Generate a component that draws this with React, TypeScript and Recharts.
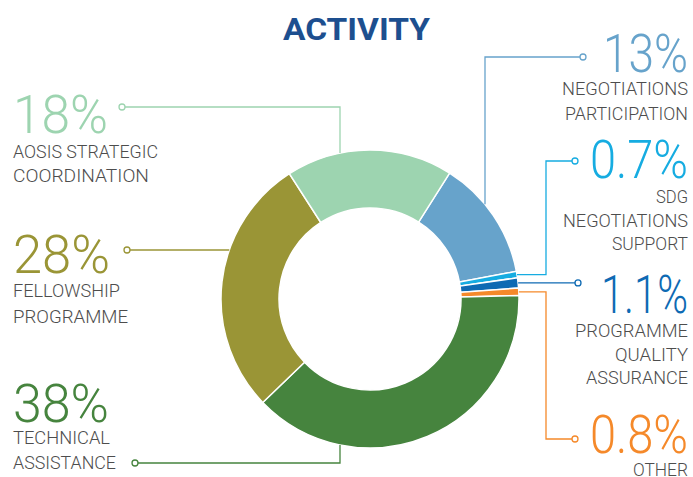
import React from 'react';
import { PieChart, Pie, Cell } from 'recharts';

// ---- data ----
const categories = [
  'NEGOTIATIONS PARTICIPATION',
  'SDG NEGOTIATIONS SUPPORT',
  'PROGRAMME QUALITY ASSURANCE',
  'OTHER',
  'TECHNICAL ASSISTANCE',
  'FELLOWSHIP PROGRAMME',
  'AOSIS STRATEGIC COORDINATION',
];
const categoryLines = [
  ['NEGOTIATIONS', 'PARTICIPATION'],
  ['SDG', 'NEGOTIATIONS', 'SUPPORT'],
  ['PROGRAMME', 'QUALITY', 'ASSURANCE'],
  ['OTHER'],
  ['TECHNICAL', 'ASSISTANCE'],
  ['FELLOWSHIP', 'PROGRAMME'],
  ['AOSIS STRATEGIC', 'COORDINATION'],
];
const shares = [13, 0.7, 1.1, 0.8, 38, 28, 18];
const shareLabels = ['13%', '0.7%', '1.1%', '0.8%', '38%', '28%', '18%'];
const title = 'ACTIVITY';

// ---- styles ----
const colors = ['#67A3CB', '#16ACE1', '#0E6AB3', '#F5892A', '#46843E', '#9A9536', '#9DD4B0'];
const textGray = '#4D4D4D';
const FONT = 'Roboto, "Noto Sans", sans-serif';

// ---- layout for labels (positions only) ----
type Leg = { x?: number; y?: number };
type Layout = {
  attach: { kind: 'mid' } | { kind: 'x'; v: number; dir: 1 | -1 } | { kind: 'y'; v: number; dir: 1 | -1 };
  legs: Leg[];
  side: 'left' | 'right';
  pctBase: number;
  pctWidth: number;
  lineBases: number[];
  lineWidths: number[];
};
const layout: Layout[] = [
  { attach: { kind: 'x', v: 485, dir: -1 }, legs: [{ y: 57 }, { x: 580 }], side: 'right', pctBase: 71.5, pctWidth: 85, lineBases: [95, 120], lineWidths: [126, 123] },
  { attach: { kind: 'mid' }, legs: [{ x: 546 }, { y: 161 }, { x: 572 }], side: 'right', pctBase: 177.5, pctWidth: 98, lineBases: [202.7, 226.7, 250], lineWidths: [32, 125, 76] },
  { attach: { kind: 'mid' }, legs: [{ x: 575 }], side: 'right', pctBase: 313, pctWidth: 87, lineBases: [337.3, 360.7, 384], lineWidths: [113, 73, 102] },
  { attach: { kind: 'mid' }, legs: [{ x: 546 }, { y: 439 }, { x: 572 }], side: 'right', pctBase: 453, pctWidth: 98, lineBases: [476], lineWidths: [55] },
  { attach: { kind: 'x', v: 340, dir: 1 }, legs: [{ y: 463 }, { x: 138 }], side: 'left', pctBase: 421.5, pctWidth: 96, lineBases: [444, 469], lineWidths: [97, 103] },
  { attach: { kind: 'y', v: 250, dir: -1 }, legs: [{ x: 130 }], side: 'left', pctBase: 273.3, pctWidth: 97, lineBases: [297.3, 322.7], lineWidths: [107, 115] },
  { attach: { kind: 'x', v: 340, dir: -1 }, legs: [{ y: 107 }, { x: 125 }], side: 'left', pctBase: 133.3, pctWidth: 95, lineBases: [158.3, 181.7], lineWidths: [145, 136] },
];

const RIGHT_X = 688;
const LEFT_X = 13;
const RAD = Math.PI / 180;

const data = categories.map((name, i) => ({ name, value: shares[i] }));

const renderLabel = (props: any) => {
  const { cx, cy, outerRadius, midAngle, index } = props;
  const L = layout[index];
  const color = colors[index];
  let ax: number;
  let ay: number;
  if (L.attach.kind === 'mid') {
    ax = cx + outerRadius * Math.cos(-midAngle * RAD);
    ay = cy + outerRadius * Math.sin(-midAngle * RAD);
  } else if (L.attach.kind === 'x') {
    ax = L.attach.v;
    ay = cy + L.attach.dir * Math.sqrt(Math.max(0, outerRadius * outerRadius - (ax - cx) * (ax - cx)));
  } else {
    ay = L.attach.v;
    ax = cx + L.attach.dir * Math.sqrt(Math.max(0, outerRadius * outerRadius - (ay - cy) * (ay - cy)));
  }
  const pts: [number, number][] = [[ax, ay]];
  let px = ax;
  let py = ay;
  L.legs.forEach((leg) => {
    if (leg.x !== undefined) px = leg.x;
    if (leg.y !== undefined) py = leg.y;
    pts.push([px, py]);
  });
  const [lx, ly] = pts[pts.length - 1];
  const [plx, ply] = pts[pts.length - 2];
  const dx = Math.sign(lx - plx);
  const dy = Math.sign(ly - ply);
  const r = 3;
  const dotX = lx + dx * r;
  const dotY = ly + dy * r;
  const d = pts.map((p, i) => `${i === 0 ? 'M' : 'L'}${p[0]},${p[1]}`).join(' ');
  const isRight = L.side === 'right';
  const tx = isRight ? RIGHT_X : LEFT_X;
  const anchor = isRight ? 'end' : 'start';
  return (
    <g key={`lbl-${index}`}>
      <path d={d} fill="none" stroke={color} strokeWidth={1.3} />
      <circle cx={dotX} cy={dotY} r={r} fill="#fff" stroke={color} strokeWidth={1.3} />
      <text
        x={tx}
        y={L.pctBase}
        textAnchor={anchor}
        fill={color}
        fontFamily={FONT}
        fontWeight={300}
        fontSize={54}
        textLength={L.pctWidth}
        lengthAdjust="spacingAndGlyphs"
      >
        {shareLabels[index]}
      </text>
      {categoryLines[index].map((line, j) => (
        <text
          key={j}
          x={tx}
          y={L.lineBases[j]}
          textAnchor={anchor}
          fill={textGray}
          fontFamily={FONT}
          fontWeight={300}
          fontSize={18.7}
          textLength={L.lineWidths[j]}
          lengthAdjust="spacingAndGlyphs"
        >
          {line}
        </text>
      ))}
    </g>
  );
};

export default function App() {
  return (
    <div style={{ position: 'absolute', left: 0, top: 0, width: 693, height: 477, background: '#fff' }}>
      <PieChart width={693} height={477} margin={{ top: 0, right: 0, bottom: 0, left: 0 }}>
        <Pie
          data={data}
          dataKey="value"
          nameKey="name"
          cx={370}
          cy={299}
          innerRadius={91}
          outerRadius={149}
          startAngle={57.7}
          endAngle={-302.3}
          stroke="#ffffff"
          strokeWidth={1.5}
          isAnimationActive={false}
          label={renderLabel}
          labelLine={false}
        >
          {data.map((_, i) => (
            <Cell key={i} fill={colors[i]} />
          ))}
        </Pie>
      </PieChart>
      <svg width={693} height={60} style={{ position: 'absolute', left: 0, top: 0, pointerEvents: 'none' }}>
        <text
          x={356.5}
          y={39.5}
          textAnchor="middle"
          fill="#1D4F8F"
          fontFamily={FONT}
          fontWeight={700}
          fontSize={32}
          textLength={147}
          lengthAdjust="spacingAndGlyphs"
        >
          {title}
        </text>
      </svg>
    </div>
  );
}
